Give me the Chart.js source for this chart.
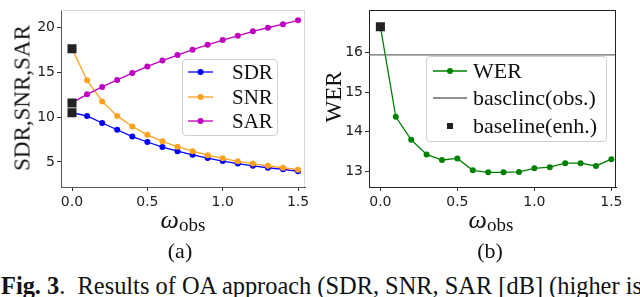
<!DOCTYPE html>
<html><head><meta charset="utf-8">
<script src="https://cdn.jsdelivr.net/npm/chart.js@4/dist/chart.umd.min.js"></script>
<style>
html,body{margin:0;padding:0;}
body{width:640px;height:297px;overflow:hidden;background:#fff;position:relative;font-family:"Liberation Serif","Times New Roman",serif;color:#111;}
canvas{position:absolute;top:0;}
#ca{left:0;}
#cb{left:320px;}
.t{position:absolute;white-space:nowrap;}
.yt{position:absolute;white-space:nowrap;font-size:23px;line-height:23px;transform:translate(-50%,-50%) rotate(-90deg);}
.xt{position:absolute;white-space:nowrap;transform:translateX(-50%);line-height:26px;}
.xt .w{font-style:italic;font-size:26px;}
.xt .s{font-size:19px;position:relative;top:3px;}
.leg{position:absolute;border:1px solid #cfcfcf;border-radius:4px;background:rgba(255,255,255,0.85);box-sizing:border-box;}
.leg svg{position:absolute;left:0;top:0;}
.cap{position:absolute;left:1px;top:274px;font-size:24.4px;line-height:24px;white-space:nowrap;}
</style>
</head><body>
<canvas id="ca" width="320" height="215"></canvas>
<canvas id="cb" width="320" height="215"></canvas>

<div class="yt" style="left:22px;top:98px;">SDR,SNR,SAR</div>
<div class="yt" style="left:333px;top:97px;">WER</div>

<div class="xt" style="left:183px;top:207px;"><span class="w">ω</span><span class="s">obs</span></div>
<div class="xt" style="left:491px;top:207px;"><span class="w">ω</span><span class="s">obs</span></div>

<div class="t" style="left:180px;top:240px;font-size:22px;line-height:22px;transform:translateX(-50%);">(a)</div>
<div class="t" style="left:490px;top:240px;font-size:22px;line-height:22px;transform:translateX(-50%);">(b)</div>

<div class="leg" id="legA" style="left:182px;top:59px;width:96px;height:77px;"></div>
<div class="leg" id="legB" style="left:426px;top:56px;width:181px;height:86px;"></div>

<div class="cap"><b>Fig. 3</b>.&nbsp; Results of OA approach (SDR, SNR, SAR [dB] (higher is better)</div>

<script>
// ---- data ----
const omega = [0.0,0.1,0.2,0.3,0.4,0.5,0.6,0.7,0.8,0.9,1.0,1.1,1.2,1.3,1.4,1.5];
const sdr = [10.5,10.15,9.35,8.6,7.84,7.23,6.66,6.2,5.8,5.44,5.1,4.82,4.57,4.35,4.18,3.96];
const snr = [17.66,14.14,11.77,10.15,8.96,8.03,7.3,6.7,6.2,5.76,5.4,5.07,4.82,4.57,4.35,4.14];
const sar = [11.6,12.56,13.39,14.17,14.93,15.68,16.33,16.95,17.55,18.09,18.63,19.1,19.6,20.0,20.4,20.83];
const baseEnhA = [17.66,11.6,10.5];
const wer = [16.65,14.38,13.8,13.43,13.29,13.33,13.03,12.98,12.98,12.99,13.08,13.11,13.21,13.21,13.14,13.31];
const baseObsWER = 15.94;
const baseEnhWER = 16.65;
const xTickLabels = ['0.0','0.5','1.0','1.5'];
const yTicksA = ['5','10','15','20'];
const yTicksB = ['13','14','15','16'];
const seriesNamesA = ['SDR','SNR','SAR'];
const seriesNamesB = ['WER','basclinc(obs.)','baseline(enh.)'];

// ---- style ----
const COL = {SDR:'#0000ff', SNR:'#ffa01e', SAR:'#c000c0', WER:'#008000', obs:'#6a6a6a', enh:'#222222'};
const tickFont = {family:'DejaVu Sans', size:14};
const pts = ys => omega.map((x,i)=>({x, y:ys[i]}));

function frame(topCol, rightCol){
  return {id:'frame', afterDraw(c){
    const a=c.chartArea, ctx=c.ctx; ctx.save(); ctx.lineWidth=1;
    ctx.strokeStyle=topCol; ctx.beginPath(); ctx.moveTo(a.left, Math.round(a.top)+0.5); ctx.lineTo(a.right, Math.round(a.top)+0.5); ctx.stroke();
    ctx.strokeStyle=rightCol; ctx.beginPath(); ctx.moveTo(Math.round(a.right)-0.5, a.top); ctx.lineTo(Math.round(a.right)-0.5, a.bottom); ctx.stroke();
    ctx.restore();
  }};
}
function xScale(min,max,h,borderCol){
  return {type:'linear', min, max,
    afterBuildTicks: s => { s.ticks = xTickLabels.map(v=>({value:parseFloat(v)})); },
    afterFit: s => { s.height = h; },
    ticks:{font:tickFont, color:'#222', padding:3, maxRotation:0, autoSkip:false,
      callback: v => xTickLabels.find(t=>parseFloat(t)===v)},
    grid:{drawOnChartArea:false, tickLength:4, color:'#333'},
    border:{color:borderCol, width:1}};
}
function yScale(min,max,w,labels,borderCol){
  return {type:'linear', min, max,
    afterBuildTicks: s => { s.ticks = labels.map(v=>({value:parseFloat(v)})); },
    afterFit: s => { s.width = w; },
    ticks:{font:tickFont, color:'#222', padding:2, autoSkip:false,
      callback: v => labels.find(t=>parseFloat(t)===v)},
    grid:{drawOnChartArea:false, tickLength:4, color:'#333'},
    border:{color:borderCol, width:1}};
}
const lineDs = (label, ys, col, order) => ({type:'line', label, data:pts(ys), borderColor:col, backgroundColor:col,
  borderWidth:1.3, pointRadius:3, pointBorderWidth:0, pointHoverRadius:3, tension:0, order});

new Chart(document.getElementById('ca'), {
  type:'line',
  data:{datasets:[
    {type:'scatter', label:'baseline', data:baseEnhA.map(y=>({x:0,y})), pointStyle:'rect', pointRadius:6.4,
      backgroundColor:COL.enh, borderColor:COL.enh, borderWidth:0, order:0},
    lineDs(seriesNamesA[2], sar, COL.SAR, 1),
    lineDs(seriesNamesA[1], snr, COL.SNR, 2),
    lineDs(seriesNamesA[0], sdr, COL.SDR, 3)
  ]},
  options:{responsive:false, animation:false, devicePixelRatio:1,
    layout:{padding:{left:0, top:4, right:15, bottom:0}},
    plugins:{legend:{display:false}, tooltip:{enabled:false}},
    scales:{x:xScale(-0.073,1.546,28,'#555'), y:yScale(2.2,21.94,61,yTicksA,'#555')}
  },
  plugins:[frame('#d8d8d8','#d8d8d8')]
});

new Chart(document.getElementById('cb'), {
  type:'line',
  data:{datasets:[
    {type:'scatter', label:seriesNamesB[2], data:[{x:0,y:baseEnhWER}], pointStyle:'rect', pointRadius:6.4,
      backgroundColor:COL.enh, borderColor:COL.enh, borderWidth:0, order:0},
    {type:'line', label:seriesNamesB[1], data:[{x:-0.074,y:baseObsWER},{x:1.53,y:baseObsWER}], borderColor:COL.obs,
      borderWidth:1.2, pointRadius:0, order:1},
    lineDs(seriesNamesB[0], wer, COL.WER, 2)
  ]},
  options:{responsive:false, animation:false, devicePixelRatio:1,
    layout:{padding:{left:0, top:2, right:24, bottom:0}},
    plugins:{legend:{display:false}, tooltip:{enabled:false}},
    scales:{x:xScale(-0.074,1.53,28,'#222'), y:yScale(12.61,17.06,49,yTicksB,'#222')}
  },
  plugins:[frame('#222','#222')]
});

// ---- HTML legends ----
function buildLegend(el, rows, lineX0, lineX1, textX, fontSize){
  const w = el.clientWidth, h = el.clientHeight;
  let svg = `<svg width="${w}" height="${h}">`;
  rows.forEach(r=>{
    const cx=(lineX0+lineX1)/2;
    if (r.kind==='line' || r.kind==='linept') svg += `<line x1="${lineX0}" y1="${r.y}" x2="${lineX1}" y2="${r.y}" stroke="${r.col}" stroke-width="1.3"/>`;
    if (r.kind==='linept') svg += `<circle cx="${cx}" cy="${r.y}" r="3" fill="${r.col}"/>`;
    if (r.kind==='sq') svg += `<rect x="${cx-3}" y="${r.y-3}" width="6" height="6" fill="${r.col}"/>`;
  });
  svg += '</svg>';
  el.innerHTML = svg;
  rows.forEach(r=>{
    const d = document.createElement('div');
    d.textContent = r.label;
    d.style.cssText = `position:absolute;white-space:nowrap;left:${textX}px;top:${r.y-11}px;font-size:${fontSize}px;line-height:22px;font-family:'Liberation Serif',serif;color:#111;`;
    el.appendChild(d);
  });
}
buildLegend(document.getElementById('legA'), [
  {kind:'linept', y:12, col:COL.SDR, label:seriesNamesA[0]},
  {kind:'linept', y:37, col:COL.SNR, label:seriesNamesA[1]},
  {kind:'linept', y:61, col:COL.SAR, label:seriesNamesA[2]}
], 5, 30, 49, 21);
buildLegend(document.getElementById('legB'), [
  {kind:'linept', y:14, col:COL.WER, label:seriesNamesB[0]},
  {kind:'line', y:41, col:COL.obs, label:seriesNamesB[1]},
  {kind:'sq', y:69, col:COL.enh, label:seriesNamesB[2]}
], 6, 40, 46, 22);
</script>
</body></html>
